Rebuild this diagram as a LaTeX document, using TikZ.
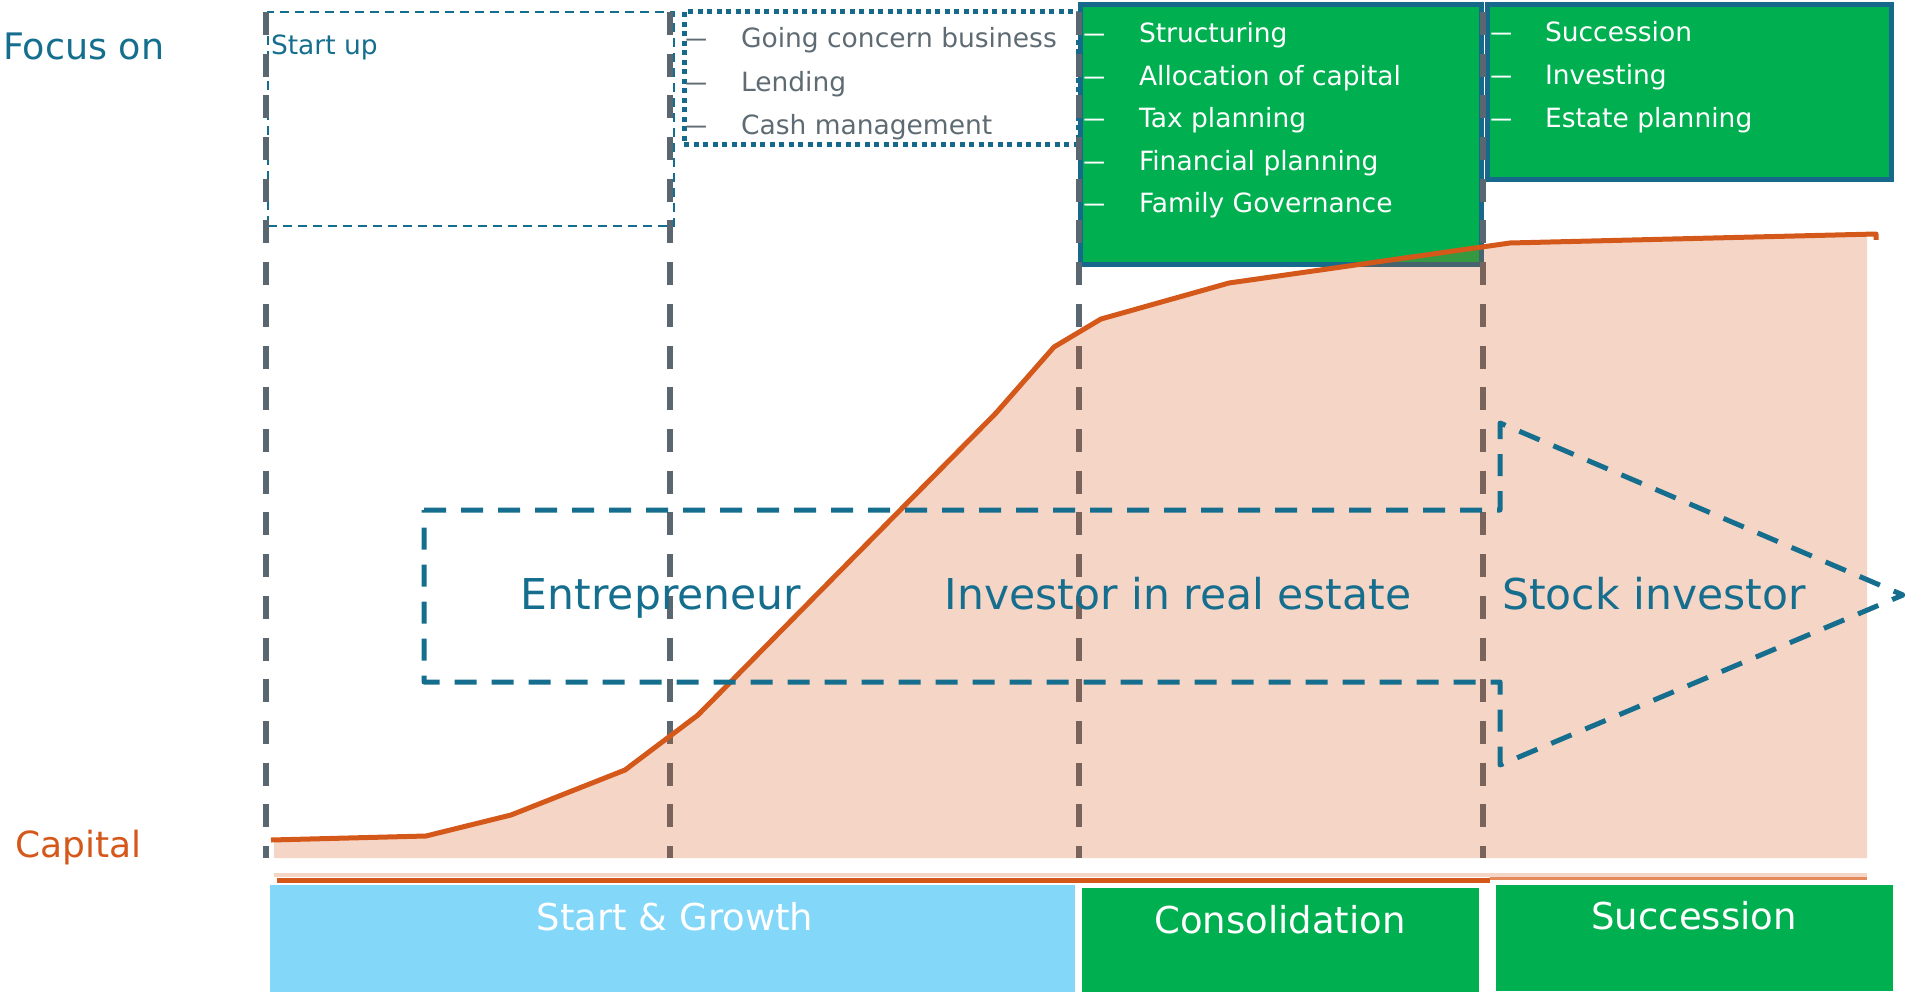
\documentclass[tikz,border=0pt]{standalone}
\usepackage{fontspec}
\usepackage{graphicx}
\setmainfont{DejaVu Sans}
\definecolor{phaseblue}{HTML}{156E8E}
\definecolor{boxblue}{HTML}{17698B}
\definecolor{kgreen}{HTML}{00B050}
\definecolor{caporange}{HTML}{D4581A}
\definecolor{lightorange}{HTML}{E58A5A}
\definecolor{guidegray}{HTML}{5B6770}
\definecolor{itemgray}{HTML}{5F6B73}
\definecolor{skyblue}{HTML}{83D7F8}
\newcommand\setfs[1]{\fontsize{#1pt}{#1pt}\selectfont}
\newcommand\itemrule{\scalebox{1.8}[1]{–}}

\begin{document}
\begin{tikzpicture}[x=1pt,y=-1pt,
  txt/.style={inner sep=0pt, outer sep=0pt, anchor=base west},
  bigtxt/.style={inner sep=0pt, outer sep=0pt, anchor=base, text=phaseblue, font=\setfs{42.5}},
  itemtxt/.style={inner sep=0pt, outer sep=0pt, anchor=base west, font=\setfs{26.5}},
  itemdash/.style={inner sep=0pt, outer sep=0pt, anchor=base west, font=\setfs{27}},
  phasetxt/.style={inner sep=0pt, outer sep=0pt, anchor=base, text=white, font=\setfs{37}},
  guide/.style={draw=guidegray, line width=5.5pt, dash pattern=on 23pt off 18.7pt},
  focusbox/.style={draw=boxblue, line width=5pt, fill=kgreen, anchor=north west, inner sep=0pt, outer sep=0pt},
  phasebox/.style={anchor=north west, inner sep=0pt, outer sep=0pt},
  rolearrow/.style={draw=phaseblue, line width=5pt, dash pattern=on 22pt off 15pt, line join=round},
  ]
\useasboundingbox (0,0) rectangle (1905,992);

% ---- focus areas (top row) ----
\node[phasebox, draw=phaseblue, line width=2pt, dash pattern=on 9pt off 6pt,
      minimum width=406pt, minimum height=214pt] (startbox) at (268,12) {};
\node[phasebox, draw=boxblue, line width=5pt, dash pattern=on 5pt off 4.5pt,
      minimum width=394pt, minimum height=133pt] (dotbox) at (684,12) {};
\node[focusbox, minimum width=401pt, minimum height=260pt] (consfocus) at (1080,5) {};
\node[focusbox, minimum width=404pt, minimum height=175pt] (succfocus) at (1487,5) {};

% ---- phase separators ----
\coordinate (g1t) at (266,12);  \coordinate (g1b) at (266,858);
\coordinate (g2t) at (670,12);  \coordinate (g2b) at (670,858);
\coordinate (g3t) at (1079,12); \coordinate (g3b) at (1079,858);
\coordinate (g4t) at (1483,12); \coordinate (g4b) at (1483,858);
\draw[guide] (g1t) -- (g1b);
\draw[guide] (g2t) -- (g2b);
\draw[guide] (g3t) -- (g3b);
\draw[guide] (g4t) -- (g4b);

% ---- capital curve ----
\fill[caporange, fill opacity=0.25]
  (274,840) -- (426,836) -- (511,815) -- (625,770) -- (698,715) -- (996,413)
  -- (1054,347) -- (1101,319) -- (1229,283) -- (1510,243) -- (1867,234)
  -- (1867,858) -- (274,858) -- cycle;
\fill[caporange, fill opacity=0.25] (274,873) rectangle (1867,877);
\draw[caporange, line width=5pt] (277,880.5) -- (1490,880.5);
\draw[lightorange, line width=2.5pt] (1490,878.5) -- (1867,878.5);
\draw[caporange, line width=5pt, line join=round]
  (271,840) -- (426,836) -- (511,815) -- (625,770) -- (698,715) -- (996,413)
  -- (1054,347) -- (1101,319) -- (1229,283) -- (1510,243) -- (1876,234) -- (1876,240);

% ---- investor roles ----
\draw[rolearrow] (424,510) -- (1500,510) -- (1500,423) -- (1903,595)
  -- (1500,765) -- (1500,682) -- (424,682) -- cycle;
\node[bigtxt] (entre) at (661,609) {Entrepreneur};
\node[bigtxt] (realestate) at (1178,609) {Investor in real estate};
\node[bigtxt] (stock) at (1654,609) {Stock investor};

% ---- side labels ----
\node[txt, text=phaseblue, font=\setfs{36.5}] (focus) at (3,60) {Focus on};
\node[txt, text=caporange, font=\setfs{36}] (capital) at (15,857) {Capital};
\node[txt, text=phaseblue, font=\setfs{26.5}] (startup) at (271,55) {Start up};

% ---- focus items ----
\foreach \t [count=\i] in {Going concern business, Lending, Cash management} {
  \node[itemdash, text=itemgray] (gd\i) at (684,{48+43.5*(\i-1)}) {\itemrule};
  \node[itemtxt, text=itemgray] (gt\i) at (741,{48+43.5*(\i-1)}) {\t};
}
\foreach \t [count=\i] in {Structuring, Allocation of capital, Tax planning,
                          Financial planning, Family Governance} {
  \node[itemdash, text=white] (cd\i) at (1082,{43+42.5*(\i-1)}) {\itemrule};
  \node[itemtxt, text=white] (ct\i) at (1139,{43+42.5*(\i-1)}) {\t};
}
\foreach \t [count=\i] in {Succession, Investing, Estate planning} {
  \node[itemdash, text=white] (sd\i) at (1489,{42+43*(\i-1)}) {\itemrule};
  \node[itemtxt, text=white] (st\i) at (1545,{42+43*(\i-1)}) {\t};
}

% ---- phases (bottom row) ----
\node[phasebox, fill=skyblue, minimum width=805pt, minimum height=107pt] (growth) at (270,885) {};
\node[phasebox, fill=kgreen, minimum width=397pt, minimum height=104pt] (consol) at (1082,888) {};
\node[phasebox, fill=kgreen, minimum width=397pt, minimum height=106pt] (succ) at (1496,885) {};
\node[phasetxt] (growthl) at (675,930) {Start \& Growth};
\node[phasetxt] (consoll) at (1280,933) {Consolidation};
\node[phasetxt] (succl) at (1694,929) {Succession};
\end{tikzpicture}
\end{document}
